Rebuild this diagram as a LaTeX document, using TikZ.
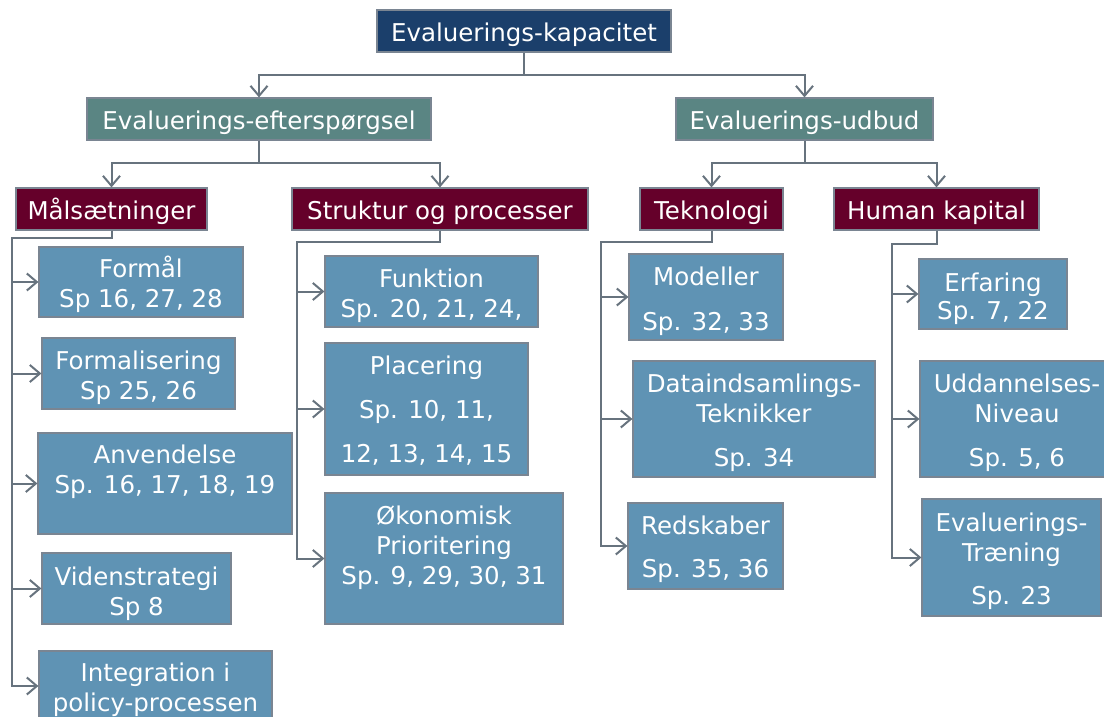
\documentclass[tikz,border=0pt]{standalone}
\usepackage{fontspec}
\setmainfont{DejaVu Sans}
\usetikzlibrary{arrows.meta,fit}

\definecolor{kapblue}{HTML}{1B3F6B}
\definecolor{midteal}{HTML}{5A8583}
\definecolor{maroon}{HTML}{65002A}
\definecolor{leafblue}{HTML}{5F93B4}
\definecolor{connline}{HTML}{67737E}
\definecolor{edgeline}{HTML}{7A8592}

% box given by its two corners
\newcommand\bx[4]{\node[#1, fit={#3 #4}] (#2) {};}
% text block: first baseline at the given y
\newcommand\tx[4]{\node[txt] (#1) at (#2,{#3-24}) {\rule{0pt}{24pt}#4};}

\begin{document}
\begin{tikzpicture}[x=1pt,y=-1pt,
  basebox/.style={draw=edgeline, line width=1.2pt, inner sep=0pt, rectangle},
  topbox/.style={basebox, fill=kapblue},
  midbox/.style={basebox, fill=midteal},
  headbox/.style={basebox, fill=maroon},
  leafbox/.style={basebox, fill=leafblue},
  txt/.style={anchor=north, inner sep=0pt, text=white, align=center,
              font=\fontsize{24.5}{30}\selectfont},
  conn/.style={draw=connline, line width=2pt},
  arr/.style={conn, -{Straight Barb[length=10pt,width=17pt,line width=2pt]}}]

\useasboundingbox (0,0) rectangle (1104,717);

% --- boxes ---
\bx{topbox}{kap}{(377,10)}{(671,52)}
\bx{midbox}{eft}{(87,98)}{(431,140)}
\bx{midbox}{udb}{(676,98)}{(933,140)}
\bx{headbox}{mal}{(16,188)}{(207,230)}
\bx{headbox}{str}{(292,188)}{(588,230)}
\bx{headbox}{tek}{(640,188)}{(783,230)}
\bx{headbox}{hum}{(834,188)}{(1039,230)}

\bx{leafbox}{formaal}{(39,247)}{(243,317)}
\bx{leafbox}{formal}{(42,338)}{(235,409)}
\bx{leafbox}{anv}{(38,433)}{(292,534)}
\bx{leafbox}{viden}{(42,553)}{(231,624)}
\bx{leafbox}{integ}{(39,651)}{(272,721)}

\bx{leafbox}{funk}{(325,256)}{(538,327)}
\bx{leafbox}{plac}{(325,343)}{(528,475)}
\bx{leafbox}{oeko}{(325,493)}{(563,624)}

\bx{leafbox}{mod}{(629,254)}{(783,340)}
\bx{leafbox}{data}{(633,361)}{(875,477)}
\bx{leafbox}{red}{(628,503)}{(783,589)}

\bx{leafbox}{erf}{(919,259)}{(1067,329)}
\bx{leafbox}{udd}{(920,361)}{(1114,477)}
\bx{leafbox}{trae}{(922,499)}{(1101,616)}

% --- texts ---
\tx{kap-t}{524}{41}{Evaluerings-kapacitet}
\tx{eft-t}{259}{129}{Evaluerings-efterspørgsel}
\tx{udb-t}{804.5}{129}{Evaluerings-udbud}
\tx{mal-t}{111.5}{219}{Målsætninger}
\tx{str-t}{440}{219}{Struktur og processer}
\tx{tek-t}{711.5}{219}{Teknologi}
\tx{hum-t}{936.5}{219}{Human kapital}

\tx{formaal-t}{141}{277}{Formål\\Sp 16, 27, 28}
\tx{formal-t}{138.5}{369}{Formalisering\\Sp 25, 26}
\tx{anv-t}{165}{463}{Anvendelse\\Sp. 16, 17, 18, 19}
\tx{viden-t}{136.5}{585}{Videnstrategi\\Sp 8}
\tx{integ-t}{155.5}{681}{Integration i\\policy-processen}

\tx{funk-t}{431.5}{287}{Funktion\\Sp. 20, 21, 24,}
\tx{plac-t}{426.5}{374}{Placering\\[14pt]Sp. 10, 11,\\[14pt]12, 13, 14, 15}
\tx{oeko-t}{444}{524}{Økonomisk\\Prioritering\\Sp. 9, 29, 30, 31}

\tx{mod-t}{706}{285}{Modeller\\[15pt]Sp. 32, 33}
\tx{data-t}{754}{392}{Dataindsamlings-\\Teknikker\\[14pt]Sp. 34}
\tx{red-t}{705.5}{534}{Redskaber\\[13pt]Sp. 35, 36}

\tx{erf-t}{993}{291}{Erfaring\\[-2pt]Sp. 7, 22}
\tx{udd-t}{1017}{392}{Uddannelses-\\Niveau\\[14pt]Sp. 5, 6}
\tx{trae-t}{1011.5}{531}{Evaluerings-\\Træning\\[13pt]Sp. 23}

% --- junction points ---
\coordinate (j0) at (524,75);
\coordinate (j1) at (259,163);
\coordinate (j2) at (804.5,163);
\coordinate (m0) at (12,238);
\coordinate (s0) at (297,242);
\coordinate (t0) at (601,242);
\coordinate (h0) at (892,244);

% --- connectors ---
\draw[arr] (kap.south) -- (j0) -| (eft.north);
\draw[arr] (j0) -| (udb.north);
\draw[arr] (eft.south) -- (j1) -| (mal.north);
\draw[arr] (j1) -| (str.north);
\draw[arr] (udb.south) -- (j2) -| (tek.north);
\draw[arr] (j2) -| (hum.north);

\foreach \c in {formaal,formal,anv,viden,integ}
  \draw[arr] (mal.south) |- (m0) |- (\c.west);
\foreach \c in {funk,plac,oeko}
  \draw[arr] (str.south) |- (s0) |- (\c.west);
\foreach \c in {mod,data,red}
  \draw[arr] (tek.south) |- (t0) |- (\c.west);
\foreach \c in {erf,udd,trae}
  \draw[arr] (hum.south) |- (h0) |- (\c.west);

\end{tikzpicture}
\end{document}
